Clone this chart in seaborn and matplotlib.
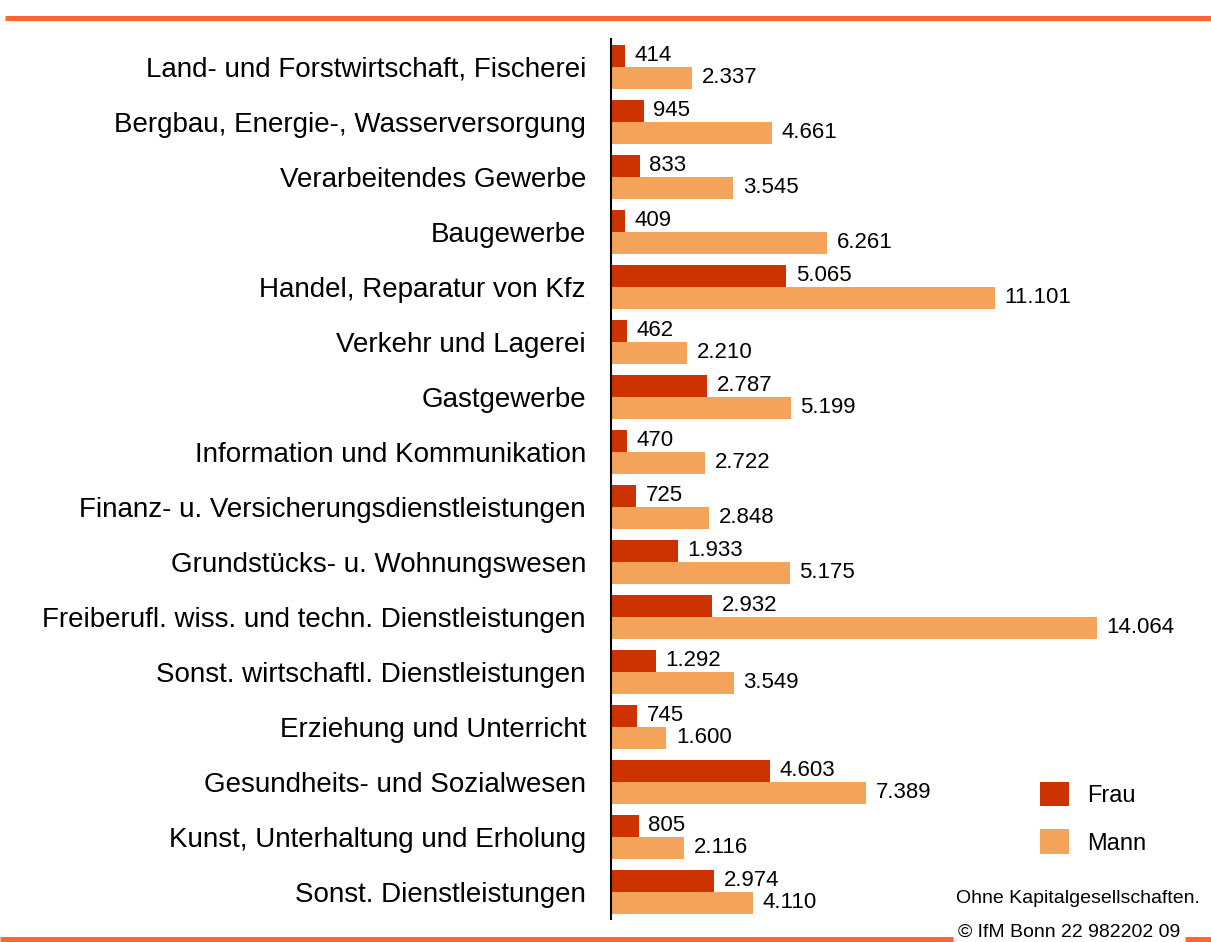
import pandas as pd
import numpy as np
import seaborn as sns
import matplotlib.pyplot as plt
from matplotlib.lines import Line2D
from matplotlib.patches import Patch

branchen = ["Land- und Forstwirtschaft, Fischerei",
            "Bergbau, Energie-, Wasserversorgung",
            "Verarbeitendes Gewerbe",
            "Baugewerbe",
            "Handel, Reparatur von Kfz",
            "Verkehr und Lagerei",
            "Gastgewerbe",
            "Information und Kommunikation",
            "Finanz- u. Versicherungsdienstleistungen",
            "Grundstücks- u. Wohnungswesen",
            "Freiberufl. wiss. und techn. Dienstleistungen",
            "Sonst. wirtschaftl. Dienstleistungen",
            "Erziehung und Unterricht",
            "Gesundheits- und Sozialwesen",
            "Kunst, Unterhaltung und Erholung",
            "Sonst. Dienstleistungen"]
frau = [414, 945, 833, 409, 5065, 462, 2787, 470, 725, 1933, 2932, 1292, 745, 4603, 805, 2974]
mann = [2337, 4661, 3545, 6261, 11101, 2210, 5199, 2722, 2848, 5175, 14064, 3549, 1600, 7389, 2116, 4110]
gruppen = ["Frau", "Mann"]
farben = ["#CC3300", "#F4A35A"]
linie = "#FF6633"

df = pd.DataFrame({"branche": branchen * 2,
                   "wert": frau + mann,
                   "geschlecht": ["Frau"] * len(frau) + ["Mann"] * len(mann)})

sns.set_style("white")
plt.rcParams['font.family'] = ['Liberation Sans', 'DejaVu Sans']
plt.rcParams['text.color'] = 'black'
plt.rcParams['ytick.color'] = 'black'

fig = plt.figure(figsize=(12.11, 9.42), dpi=100)
ax = fig.add_axes([0.5045, 0.0239, 0.4865, 0.9342])

sns.barplot(data=df, y="branche", x="wert", hue="geschlecht", hue_order=gruppen,
            palette=farben, orient="h", width=0.8, saturation=1, linewidth=0,
            ax=ax, legend=False)

for cont in ax.containers:
    ax.bar_label(cont, labels=[f"{int(v):,}".replace(",", ".") for v in cont.datavalues],
                 padding=7, fontsize=16, color="black")

ax.set_xlim(0, 17050)
ax.set_ylim(15.5, -0.5)
ax.set_xlabel("")
ax.set_ylabel("")
ax.set_xticks([])
ax.tick_params(axis="y", length=0, pad=18, labelsize=20, labelcolor="black")
for s in ["top", "right", "bottom"]:
    ax.spines[s].set_visible(False)
ax.spines["left"].set_color("black")
ax.spines["left"].set_linewidth(1.5)

handles = [Patch(facecolor=c, edgecolor="none") for c in farben]
ax.legend(handles, gruppen, loc="center left", bbox_to_anchor=(0.7, 0.115),
          frameon=False, fontsize=17, handlelength=1.23, handleheight=1.2,
          labelspacing=0.95, handletextpad=0.75, borderpad=0.2)

# Zierlinien und Fußnoten
fig.add_artist(Line2D([0.004, 1], [0.9814, 0.9814], transform=fig.transFigure,
                      color=linie, lw=3.6, solid_capstyle="butt"))
fig.add_artist(Line2D([0, 0.787], [0.0027, 0.0027], transform=fig.transFigure,
                      color=linie, lw=3.6, solid_capstyle="butt"))
fig.add_artist(Line2D([0.9785, 1], [0.0027, 0.0027], transform=fig.transFigure,
                      color=linie, lw=3.6, solid_capstyle="butt"))
fig.text(0.991, 0.0467, "Ohne Kapitalgesellschaften.", ha="right", va="center", fontsize=14)
fig.text(0.8827, 0.001, "© IfM Bonn 22 982202 09", ha="center", va="bottom", fontsize=14)

fig.savefig("out.png", dpi=100)
